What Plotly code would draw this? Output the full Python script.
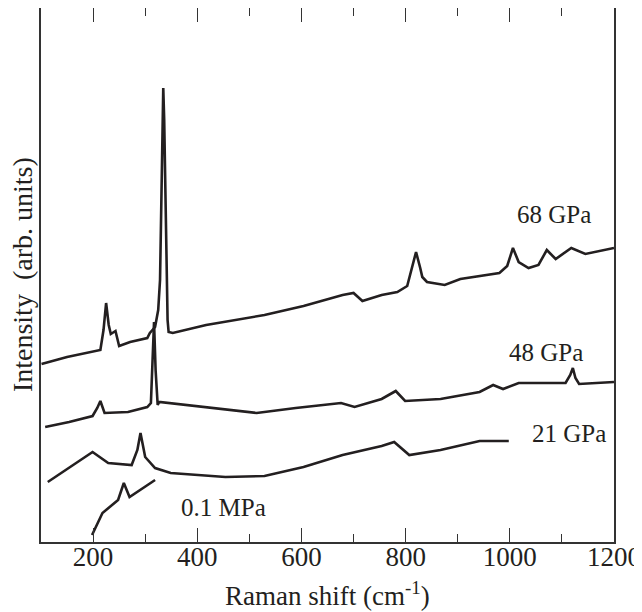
import plotly.graph_objects as go

# Raman shift (cm-1) and intensity (arb. units, offset stacked)
x_68 = [101, 150, 214, 220, 225, 230, 234, 243, 250, 271, 304, 309, 319, 325, 328.5, 331, 333,
        334.7, 336.5, 338.5, 341, 343, 345, 353, 417, 529, 604, 679, 700, 717, 754, 784, 803,
        812, 820, 828, 832, 841, 875, 905, 980, 995, 1006, 1017, 1036, 1055, 1071, 1088, 1118,
        1145, 1200]
y_68 = [178, 185, 192, 212, 239, 217, 208, 211, 196, 200, 204, 209, 215, 232, 262, 352, 422,
        454, 422, 352, 262, 222, 210, 209, 217, 227, 236, 247, 249, 241, 247, 250, 256,
        274, 290, 274, 265, 260, 257, 263, 269, 276, 294, 280, 274, 277, 292, 283, 294,
        288, 294]

x_48 = [108, 154, 199, 208, 214, 222, 267, 304, 311, 314, 317, 320, 324, 327, 379, 454, 514,
        589, 676, 702, 754, 781, 799, 867, 942, 968, 987, 1017, 1055, 1107, 1116, 1121, 1126,
        1133, 1200]
y_48 = [115, 120, 126, 134, 141, 129, 130, 135, 139, 172, 220, 172, 137, 140, 137, 132, 129,
        134, 139, 135, 143, 151, 141, 143, 150, 157, 153, 159, 159, 159, 167, 174, 164,
        158, 160]

x_21 = [113, 139, 177, 199, 229, 274, 285, 291, 300, 319, 349, 454, 529, 604, 679, 754, 778,
        807, 867, 942, 998]
y_21 = [60, 69, 82, 90, 79, 77, 92, 109, 85, 74, 69, 65, 66, 75, 87, 96, 100,
        87, 92, 101, 101]

x_01 = [198, 218, 248, 259, 270, 319]
y_01 = [7, 29, 42, 59, 45, 62]

series = [("68 GPa", x_68, y_68), ("48 GPa", x_48, y_48),
          ("21 GPa", x_21, y_21), ("0.1 MPa", x_01, y_01)]

label_text = ["68 GPa", "48 GPa", "21 GPa", "0.1 MPa"]
label_x = [1085, 1070, 1113, 450]
label_y = [328, 190, 109, 35]

x_ticks = [200, 400, 600, 800, 1000, 1200]

FONT = "Liberation Serif, Times New Roman, serif"
INK = "#231f20"

fig = go.Figure()
for name, xs, ys in series:
    fig.add_trace(go.Scatter(x=xs, y=ys, mode="lines", name=name,
                             line=dict(color=INK, width=2.6), showlegend=False))

for t, lx, ly in zip(label_text, label_x, label_y):
    fig.add_annotation(x=lx, y=ly, text=t, showarrow=False,
                       font=dict(family=FONT, size=25, color=INK))

# axis titles as paper annotations for exact placement
fig.add_annotation(xref="paper", yref="paper", x=0.5, y=-0.097, yanchor="middle",
                   text="Raman shift (cm<sup>-1</sup>)", showarrow=False,
                   font=dict(family=FONT, size=27, color=INK))
fig.add_annotation(xref="paper", yref="paper", x=-0.033, y=0.5, xanchor="center",
                   yanchor="middle", textangle=-90,
                   text="Intensity&nbsp; (arb. units)", showarrow=False,
                   font=dict(family=FONT, size=28, color=INK))

# page body adds an 8px margin, so the figure is sized to fit the 642x612 window
fig.update_layout(
    width=634, height=604,
    margin=dict(l=33, r=28, t=0, b=70),
    paper_bgcolor="white", plot_bgcolor="white",
    font=dict(family=FONT, size=26, color=INK),
)
fig.update_xaxes(
    range=[100, 1200], tickvals=x_ticks, ticktext=[str(v) for v in x_ticks],
    ticks="inside", ticklen=14, tickwidth=1.3, tickcolor="#333",
    minor=dict(dtick=100, tick0=0, ticks="inside", ticklen=8, tickwidth=1.1, tickcolor="#333"),
    showline=True, linecolor="#333", linewidth=1.5, mirror="ticks",
    showgrid=False, zeroline=False, automargin=False, ticklabelstandoff=-10,
    tickfont=dict(family=FONT, size=27, color=INK),
)
fig.update_yaxes(
    range=[0, 534], showticklabels=False, ticks="",
    showline=True, linecolor="#333", linewidth=1.5, mirror=True,
    showgrid=False, zeroline=False, automargin=False,
)

fig.write_html("out.html")
